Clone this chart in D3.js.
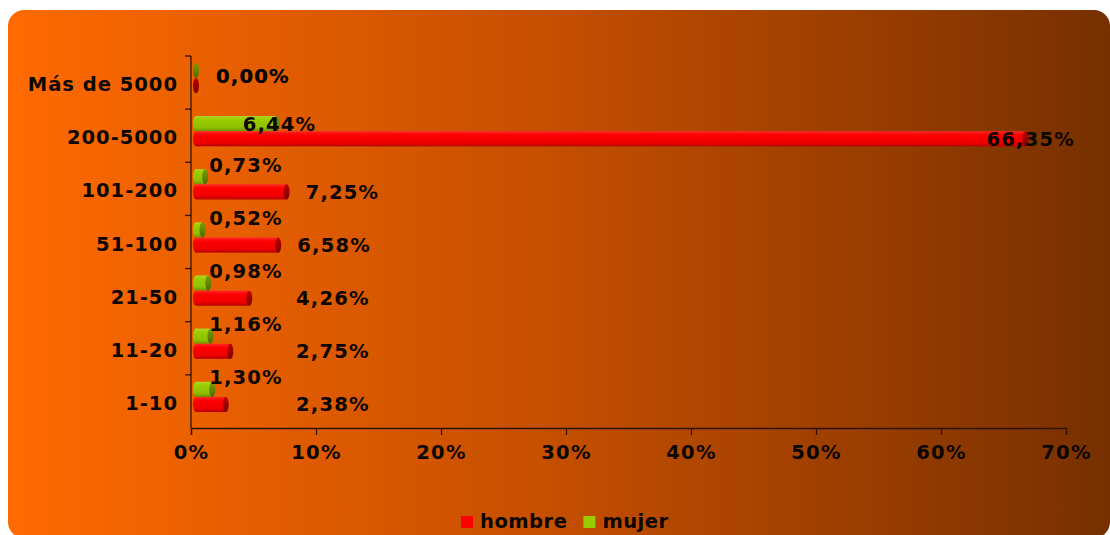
<!DOCTYPE html>
<html>
<head>
<meta charset="utf-8">
<script src="https://cdn.jsdelivr.net/npm/d3@7"></script>
<style>
  html, body { margin: 0; padding: 0; background: #ffffff; }
  svg { display: block; }
  text { font-family: "DejaVu Sans", Verdana, sans-serif; font-weight: bold; fill: #0d0600; }
</style>
</head>
<body>
<svg id="chart" width="1110" height="535"></svg>
<script>
// ---- data (bottom to top as in the chart) ----
const categories = ["1-10", "11-20", "21-50", "51-100", "101-200", "200-5000", "Más de 5000"];
const hombre = [2.38, 2.75, 4.26, 6.58, 7.25, 66.35, 0.00];
const mujer  = [1.30, 1.16, 0.98, 0.52, 0.73, 6.44, 0.00];
const xTicks = [0, 10, 20, 30, 40, 50, 60, 70];
const seriesNames = ["hombre", "mujer"];

const W = 1110, H = 535;
const svg = d3.select("#chart");
const defs = svg.append("defs");

// background gradient panel
const bg = defs.append("linearGradient").attr("id", "bgGrad").attr("x1", "0").attr("x2", "1").attr("y1", "0").attr("y2", "0");
bg.append("stop").attr("offset", "0%").attr("stop-color", "#ff6a00");
bg.append("stop").attr("offset", "50%").attr("stop-color", "#c44e00");
bg.append("stop").attr("offset", "100%").attr("stop-color", "#773000");
svg.append("rect").attr("x", 8).attr("y", 10).attr("width", 1102).attr("height", 528)
  .attr("rx", 16).attr("ry", 16).attr("fill", "url(#bgGrad)");

// bar gradients
function vGrad(id, stops) {
  const g = defs.append("linearGradient").attr("id", id).attr("x1", "0").attr("x2", "0").attr("y1", "0").attr("y2", "1");
  stops.forEach(s => g.append("stop").attr("offset", s[0]).attr("stop-color", s[1]));
}
vGrad("redBody", [["0%", "#ff2a2a"], ["25%", "#ff0000"], ["75%", "#f00000"], ["100%", "#b80000"]]);
vGrad("redCap", [["0%", "#c00000"], ["50%", "#a00000"], ["100%", "#7a0000"]]);
vGrad("greenBody", [["0%", "#b0d820"], ["25%", "#99cc00"], ["75%", "#8fbf00"], ["100%", "#6f9400"]]);
vGrad("greenCap", [["0%", "#7a9c00"], ["50%", "#668500"], ["100%", "#4f6800"]]);

// scales
const x = d3.scaleLinear().domain([0, 70]).range([191, 1066]);
const yOrder = categories.slice().reverse();
const y = d3.scaleBand().domain(yOrder).range([56, 428]).padding(0);
const bw = y.bandwidth();

// axes
const xAxis = d3.axisBottom(x).tickValues(xTicks).tickFormat(d => d + "%").tickSize(7).tickPadding(10);
const gx = svg.append("g").attr("transform", "translate(0,428)").call(xAxis);
gx.select(".domain").attr("stroke", "#2e1400").attr("stroke-width", 1.3);
gx.selectAll(".tick line").attr("stroke", "#2e1400").attr("stroke-width", 1.3);
gx.selectAll(".tick text").style("font-size", "19.5px").style("letter-spacing", "1.3px")
  .attr("fill", "#0d0600").attr("font-family", null);

// y axis with tick marks at band boundaries
svg.append("line").attr("x1", 191).attr("x2", 191).attr("y1", 56).attr("y2", 428)
  .attr("stroke", "#2e1400").attr("stroke-width", 1.3);
const bounds = yOrder.map(c => y(c));
svg.selectAll(".ytick").data(bounds).enter().append("line")
  .attr("x1", 185).attr("x2", 191).attr("y1", d => d).attr("y2", d => d)
  .attr("stroke", "#2e1400").attr("stroke-width", 1.3);
svg.selectAll(".ylab").data(categories).enter().append("text")
  .attr("x", 178).attr("y", d => y(d) + bw / 2 + 2)
  .attr("text-anchor", "end").attr("dominant-baseline", "central")
  .style("font-size", "19.5px").style("letter-spacing", "1px")
  .text(d => d);

// cylinders
const barH = bw * 0.285;
const greenOff = bw * 0.13, redOff = bw * 0.415;
const x0 = x(0);
function cylinder(g, xv, yTop, body, cap) {
  const start = x0 + 5, end = xv + 5, ry = barH / 2, rx = 3;
  const cy = yTop + ry;
  if (end > start) {
    g.append("ellipse").attr("cx", start).attr("cy", cy).attr("rx", rx).attr("ry", ry).attr("fill", `url(#${body})`);
    g.append("rect").attr("x", start).attr("y", yTop).attr("width", end - start).attr("height", barH).attr("fill", `url(#${body})`);
  }
  g.append("ellipse").attr("cx", end).attr("cy", cy).attr("rx", rx).attr("ry", ry).attr("fill", `url(#${cap})`);
}
const gb = svg.append("g");
categories.forEach((c, i) => {
  const t = y(c);
  cylinder(gb, x(mujer[i]), t + greenOff, "greenBody", "greenCap");
  cylinder(gb, x(hombre[i]), t + redOff, "redBody", "redCap");
});

// value labels
const fmt = v => v.toFixed(2).replace(".", ",") + "%";
const gl = svg.append("g");
function addLabel(txt) {
  return gl.append("text").style("font-size", "19.5px").style("letter-spacing", "1.2px")
    .attr("dominant-baseline", "central").text(txt);
}
categories.forEach((c, i) => {
  const t = y(c);
  // mujer
  const gv = mujer[i], hv = hombre[i];
  const gEnd = x(gv) + 8;
  const lg = addLabel(fmt(gv));
  const gw = lg.node().getComputedTextLength();
  if (gv === 0 && hv === 0) {
    lg.attr("x", x0 + 25).attr("y", t + bw * 0.39);
  } else {
    const cx = Math.max(gEnd, x0 + 55);
    const yy = cx === gEnd ? t + greenOff + barH / 2 + 1 : t + 3;
    lg.attr("x", cx - gw / 2).attr("y", yy);
  }
  // hombre
  const lr = addLabel(fmt(hv));
  const rw = lr.node().getComputedTextLength();
  if (hv === 0 && gv === 0) {
    lr.attr("x", x0 + 25).attr("y", t + bw * 0.39);
  } else {
    let left = Math.max(x(hv) + 8 + 16, x0 + 105);
    left = Math.min(left, 1075 - rw);
    lr.attr("x", left).attr("y", t + redOff + barH / 2 + 0.5);
  }
});

// legend
const legendColors = ["#ff0000", "#99cc00"];
const lgG = svg.append("g");
let lx = 461;
seriesNames.forEach((s, i) => {
  lgG.append("rect").attr("x", lx).attr("y", 516).attr("width", 12).attr("height", 12).attr("fill", legendColors[i]);
  const tx = lgG.append("text").attr("x", lx + 19).attr("y", 528)
    .style("font-size", "19.5px").style("letter-spacing", "0.5px").text(s);
  lx = lx + 19 + tx.node().getComputedTextLength() + 16;
});
</script>
</body>
</html>
